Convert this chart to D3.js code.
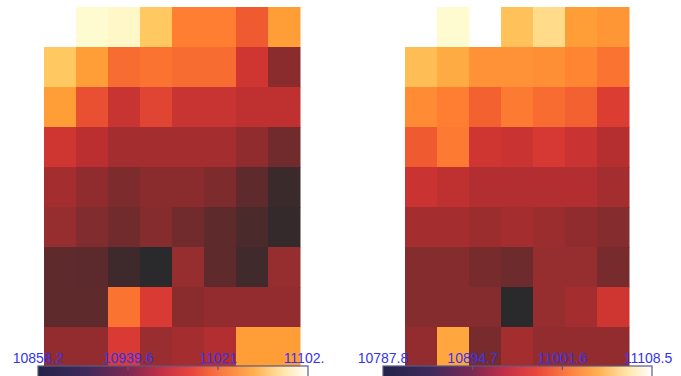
<!DOCTYPE html>
<meta charset="utf-8">
<style>
body { margin: 0; background: #fff; }
.tick-label { font-family: "Liberation Sans", Arial, sans-serif; font-size: 14px; fill: #3434ee; }
.cbar-frame { fill: none; stroke: #5a5a86; stroke-width: 1.2; }
</style>
<svg width="681" height="376"></svg>
<script src="https://d3js.org/d3.v7.min.js"></script>
<script>

// left map, 9 rows x 8 columns (null = no data)
var leftValues = [
  [null, 11102.4, 11101.0, 11082.9, 11041.4, 11041.4, 11016.9, 11063.3],
  [11082.9, 11063.3, 11029.1, 11034.0, 11029.1, 11029.1, 10985.2, 10931.5],
  [11063.3, 11009.6, 10980.3, 10999.8, 10980.3, 10980.3, 10973.0, 10973.0],
  [10985.2, 10970.5, 10951.0, 10951.0, 10951.0, 10951.0, 10936.3, 10911.9],
  [10951.0, 10936.3, 10921.7, 10931.5, 10931.5, 10921.7, 10897.3, 10870.4],
  [10941.2, 10924.1, 10911.9, 10926.6, 10911.9, 10897.3, 10882.6, 10865.5],
  [10897.3, 10894.8, 10872.9, 10858.2, 10941.2, 10897.3, 10875.3, 10941.2],
  [10897.3, 10897.3, 11034.0, 10992.5, 10931.5, 10938.8, 10938.8, 10938.8],
  [10938.8, 10938.8, 10992.5, 10943.7, 10951.0, 10963.2, 11063.3, 11063.3]
];

// right map, 9 rows x 7 columns
var rightValues = [
  [null, 11108.5, null, 11079.6, 11092.5, 11057.2, 11050.8],
  [11076.4, 11066.8, 11047.6, 11047.6, 11044.4, 11034.7, 11018.7],
  [11041.2, 11028.3, 11002.7, 11025.1, 11012.3, 11002.7, 10967.4],
  [10996.3, 11025.1, 10954.6, 10948.2, 10961.0, 10948.2, 10928.9],
  [10948.2, 10938.5, 10925.7, 10925.7, 10925.7, 10925.7, 10909.7],
  [10909.7, 10909.7, 10903.3, 10909.7, 10903.3, 10890.4, 10877.6],
  [10877.6, 10877.6, 10864.8, 10855.1, 10896.8, 10896.8, 10864.8],
  [10877.6, 10877.6, 10877.6, 10787.8, 10896.8, 10909.7, 10954.6],
  [10893.6, 11063.6, 10864.8, 10909.7, 10893.6, 10893.6, 10893.6]
];

var leftTicks = ["10858.2", "10939.6", "11021", "11102."];
var rightTicks = ["10787.8", "10894.7", "11001.6", "11108.5"];

// cell colours (dark -> red -> orange -> pale yellow)
var cellStops = [
  [0.00, "#2a2a2c"], [0.15, "#5c2a2c"], [0.30, "#8a2c2e"], [0.45, "#b82e30"],
  [0.55, "#d93a33"], [0.65, "#f05a30"], [0.75, "#ff7e32"], [0.85, "#ffa038"],
  [0.92, "#ffc860"], [1.00, "#fffbd0"]
];
// colourbar gradient
var barStops = [
  [0.00, "#23234a"], [0.18, "#402a5c"], [0.33, "#7a2852"], [0.45, "#c02e48"],
  [0.57, "#e8463c"], [0.68, "#fa7a40"], [0.80, "#ffb050"], [0.91, "#ffe6ac"],
  [1.00, "#ffffff"]
];

var svg = d3.select("svg");
var defs = svg.append("defs");

function drawMap(values, ticks, opts) {
  var nRows = values.length, nCols = values[0].length;
  var flat = d3.merge(values).filter(function(v) { return v != null; });
  var ext = d3.extent(flat);

  var x = d3.scaleBand().domain(d3.range(nCols)).range([opts.x0, opts.x0 + nCols * 32]);
  var y = d3.scaleBand().domain(d3.range(nRows)).range([7, 7 + nRows * 40]);
  var norm = d3.scaleLinear().domain(ext).range([0, 1]);
  var color = d3.scaleLinear()
      .domain(cellStops.map(function(s) { return s[0]; }))
      .range(cellStops.map(function(s) { return s[1]; }));

  var g = svg.append("g");
  values.forEach(function(row, r) {
    g.selectAll(null)
      .data(row.map(function(v, c) { return {r: r, c: c, v: v}; }).filter(function(d) { return d.v != null; }))
      .enter().append("rect")
        .attr("x", function(d) { return x(d.c); })
        .attr("y", function(d) { return y(d.r); })
        .attr("width", x.bandwidth() + 0.5)
        .attr("height", y.bandwidth() + 0.5)
        .attr("fill", function(d) { return color(norm(d.v)); });
  });

  // colourbar
  var id = "grad" + opts.x0;
  var grad = defs.append("linearGradient").attr("id", id);
  grad.selectAll("stop").data(barStops).enter().append("stop")
      .attr("offset", function(s) { return s[0]; })
      .attr("stop-color", function(s) { return s[1]; });

  var bx = d3.scaleLinear().domain([0, 3]).range([opts.b0, opts.b1]);
  svg.append("rect")
      .attr("x", bx(0)).attr("y", 366)
      .attr("width", bx(3) - bx(0)).attr("height", 16)
      .attr("fill", "url(#" + id + ")");
  svg.append("rect").attr("class", "cbar-frame")
      .attr("x", bx(0)).attr("y", 366)
      .attr("width", bx(3) - bx(0)).attr("height", 16);
  svg.selectAll(null).data([1, 2]).enter().append("line")
      .attr("x1", function(i) { return bx(i); }).attr("x2", function(i) { return bx(i); })
      .attr("y1", 366).attr("y2", 370)
      .attr("stroke", "#5a5a86").attr("stroke-width", 1.2);

  svg.selectAll(null).data(ticks).enter().append("text")
      .attr("class", "tick-label")
      .attr("x", function(t, i) { return bx(i) + (i === 3 ? -4 : 0); })
      .attr("y", 363)
      .attr("text-anchor", "middle")
      .text(function(t) { return t; });
}

drawMap(leftValues, leftTicks, {x0: 44, b0: 38, b1: 308});
drawMap(rightValues, rightTicks, {x0: 405, b0: 383, b1: 652});

</script>
